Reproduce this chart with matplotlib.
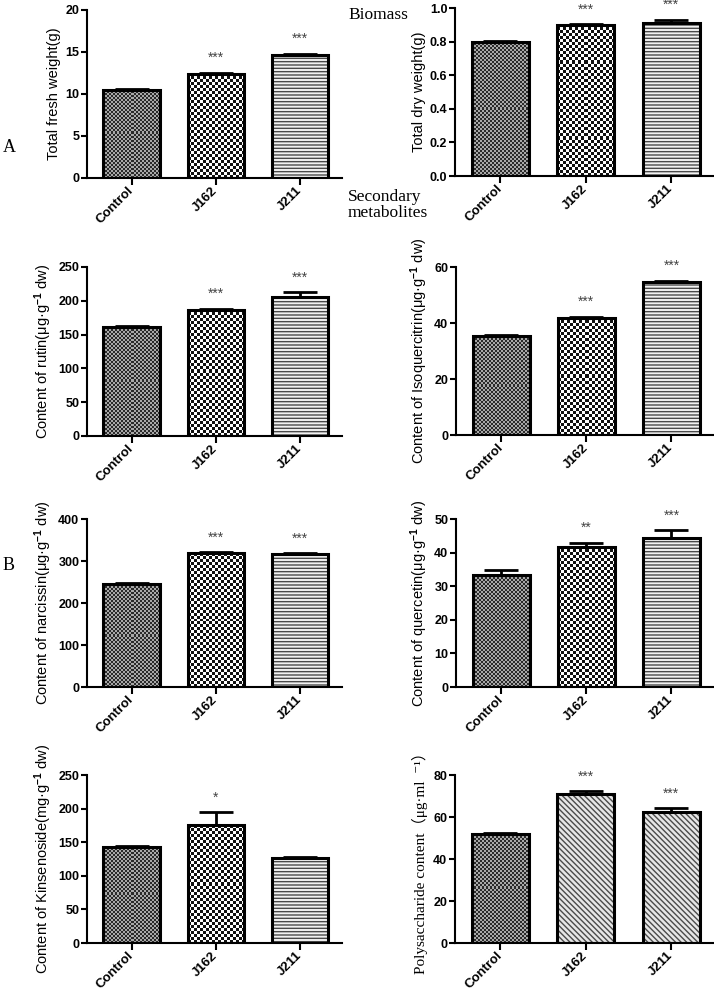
import numpy as np
import matplotlib
matplotlib.use('Agg')
import matplotlib.pyplot as plt
from matplotlib.colors import ListedColormap

# data
groups = ['Control', 'J162', 'J211']

fresh_weight = [10.5, 12.4, 14.6]
fresh_err = [0.05, 0.12, 0.2]
fresh_sig = ['', '***', '***']

dry_weight = [0.80, 0.90, 0.91]
dry_err = [0.003, 0.005, 0.02]
dry_sig = ['', '***', '***']

rutin = [161, 187, 205]
rutin_err = [1, 1.5, 8]
rutin_sig = ['', '***', '***']

isoquercitrin = [35.2, 41.8, 54.8]
isoquercitrin_err = [0.4, 0.5, 0.3]
isoquercitrin_sig = ['', '***', '***']

narcissin = [245, 318, 316]
narcissin_err = [2, 2.5, 2]
narcissin_sig = ['', '***', '***']

quercetin = [33.2, 41.7, 44.4]
quercetin_err = [1.5, 1.3, 2.2]
quercetin_sig = ['', '**', '***']

kinsenoside = [143, 175, 127]
kinsenoside_err = [1.5, 20, 1.5]
kinsenoside_sig = ['', '*', '']

polysaccharide = [51.8, 71.0, 62.3]
polysaccharide_err = [0.6, 1.2, 2.0]
polysaccharide_sig = ['', '***', '***']

ticks_fresh = ['0', '5', '10', '15', '20']
ticks_dry = ['0.0', '0.2', '0.4', '0.6', '0.8', '1.0']
ticks_rutin = ['0', '50', '100', '150', '200', '250']
ticks_iso = ['0', '20', '40', '60']
ticks_narc = ['0', '100', '200', '300', '400']
ticks_quer = ['0', '10', '20', '30', '40', '50']
ticks_kins = ['0', '50', '100', '150', '200', '250']
ticks_poly = ['0', '20', '40', '60', '80']

plt.rcParams['font.family'] = ['Liberation Sans', 'DejaVu Sans']
plt.rcParams['font.weight'] = 'bold'
plt.rcParams['mathtext.fontset'] = 'custom'
plt.rcParams['mathtext.rm'] = 'Liberation Sans:bold'
plt.rcParams['mathtext.it'] = 'Liberation Sans:bold'
plt.rcParams['mathtext.bf'] = 'Liberation Sans:bold'
plt.rcParams['hatch.linewidth'] = 1.0

W, H = 714, 992
fig = plt.figure(figsize=(W / 100, H / 100), dpi=100)


def px_rect(left, top, right, bottom):
    return [left / W, 1 - bottom / H, (right - left) / W, (bottom - top) / H]


def checker(ax, bar, cell, cols):
    x0, y0 = bar.get_x(), bar.get_y()
    x1, y1 = x0 + bar.get_width(), y0 + bar.get_height()
    (p0, q0), (p1, q1) = ax.transData.transform([(x0, y0), (x1, y1)])
    nx = max(1, int(round((p1 - p0) / cell)))
    ny = max(1, int(round((q1 - q0) / cell)))
    arr = np.add.outer(np.arange(ny), np.arange(nx)) % 2
    im = ax.imshow(arr, cmap=ListedColormap(cols), vmin=0, vmax=1,
                   extent=(x0, x1, y0, y1), origin='lower',
                   interpolation='nearest', aspect='auto', zorder=2)
    im.set_clip_path(bar)


def hatched(ax, bar, hatch, face):
    ax.bar(bar.get_x(), bar.get_height(), width=bar.get_width(), align='edge',
           facecolor=face, edgecolor='#4a4a4a', hatch=hatch, linewidth=0, zorder=2)


def panel(rect, values, errors, sig, ticks, ylabel, fills, serif_label=False):
    ax = fig.add_axes(rect)
    x = np.arange(len(groups))
    yvals = [float(t) for t in ticks]
    ax.set_xlim(-0.53, 2.5)
    ax.set_ylim(0, yvals[-1])
    bars = ax.bar(x, values, width=0.67, facecolor='none', edgecolor='black',
                  linewidth=2.2, zorder=3)
    for b, f in zip(bars, fills):
        if f == 'fine':
            checker(ax, b, 2, ['#2a2a2a', '#a8a8a8'])
        elif f == 'coarse':
            checker(ax, b, 3, ['#111111', '#ffffff'])
        elif f == 'hlines':
            hatched(ax, b, '-----', '#f2f2f2')
        else:
            hatched(ax, b, '\\\\\\\\\\\\', '#e6e6e6')
    ax.errorbar(x, values, yerr=[np.zeros(len(values)), errors], fmt='none',
                ecolor='black', elinewidth=2, capsize=12, capthick=2, zorder=4)
    for i, (v, e, s) in enumerate(zip(values, errors, sig)):
        if s:
            ax.annotate(s, (i, v + e), xytext=(0, 10.5), textcoords='offset points',
                        ha='center', va='center', fontsize=10, fontweight='normal',
                        color='#444444', annotation_clip=False)
    ax.set_xlim(-0.53, 2.5)
    ax.set_ylim(0, yvals[-1])
    ax.set_yticks(yvals, ticks)
    ax.set_xticks(x, groups, rotation=45, ha='right', va='center',
                  rotation_mode='anchor')
    for sp in ['top', 'right']:
        ax.spines[sp].set_visible(False)
    for sp in ['left', 'bottom']:
        ax.spines[sp].set_linewidth(1.5)
    ax.tick_params(axis='y', direction='out', length=4, width=1.5, labelsize=9, pad=1.5)
    ax.tick_params(axis='x', direction='out', length=5, width=1.5, labelsize=9.5, pad=3)
    if serif_label:
        ax.set_ylabel(ylabel, family=['Liberation Serif', 'Noto Sans CJK SC', 'DejaVu Serif'],
                      fontweight='normal', fontsize=11, labelpad=4)
    else:
        ax.set_ylabel(ylabel, fontsize=10.5, labelpad=3)
    return ax


std = ['fine', 'coarse', 'hlines']
unit = r'(μg·g$^{-1}$ dw)'

panel(px_rect(87, 10, 342, 178), fresh_weight, fresh_err, fresh_sig, ticks_fresh,
      'Total fresh weight(g)', std)
panel(px_rect(455, 8, 714, 176), dry_weight, dry_err, dry_sig, ticks_dry,
      'Total dry weight(g)', std)
panel(px_rect(87, 267, 342, 436), rutin, rutin_err, rutin_sig, ticks_rutin,
      'Content of rutin' + unit, std)
panel(px_rect(456, 267, 714, 435), isoquercitrin, isoquercitrin_err, isoquercitrin_sig,
      ticks_iso, 'Content of Isoquercitrin' + unit, std)
panel(px_rect(87, 519, 342, 687), narcissin, narcissin_err, narcissin_sig, ticks_narc,
      'Content of narcissin' + unit, std)
panel(px_rect(456, 519, 714, 687), quercetin, quercetin_err, quercetin_sig, ticks_quer,
      'Content of quercetin' + unit, std)
panel(px_rect(87, 775, 342, 943), kinsenoside, kinsenoside_err, kinsenoside_sig, ticks_kins,
      r'Content of Kinsenoside(mg·g$^{-1}$ dw)', std)
panel(px_rect(455, 775, 714, 943), polysaccharide, polysaccharide_err, polysaccharide_sig,
      ticks_poly, 'Polysaccharide content（μg·ml  ⁻¹）', ['fine', 'diag', 'diag'],
      serif_label=True)

serif = ['Liberation Serif', 'DejaVu Serif']
fig.text(9 / W, 1 - 148 / H, 'A', family=serif, fontweight='normal', fontsize=13,
         ha='center', va='center')
fig.text(9 / W, 1 - 565 / H, 'B', family=serif, fontweight='normal', fontsize=13,
         ha='center', va='center')
fig.text(348 / W, 1 - 15 / H, 'Biomass', family=serif, fontweight='normal', fontsize=12.5,
         ha='left', va='center')
fig.text(348 / W, 1 - 205 / H, 'Secondary\nmetabolites', family=serif, fontweight='normal',
         fontsize=12.5, ha='left', va='center', linespacing=1.0)

fig.savefig('out.png', dpi=100)
